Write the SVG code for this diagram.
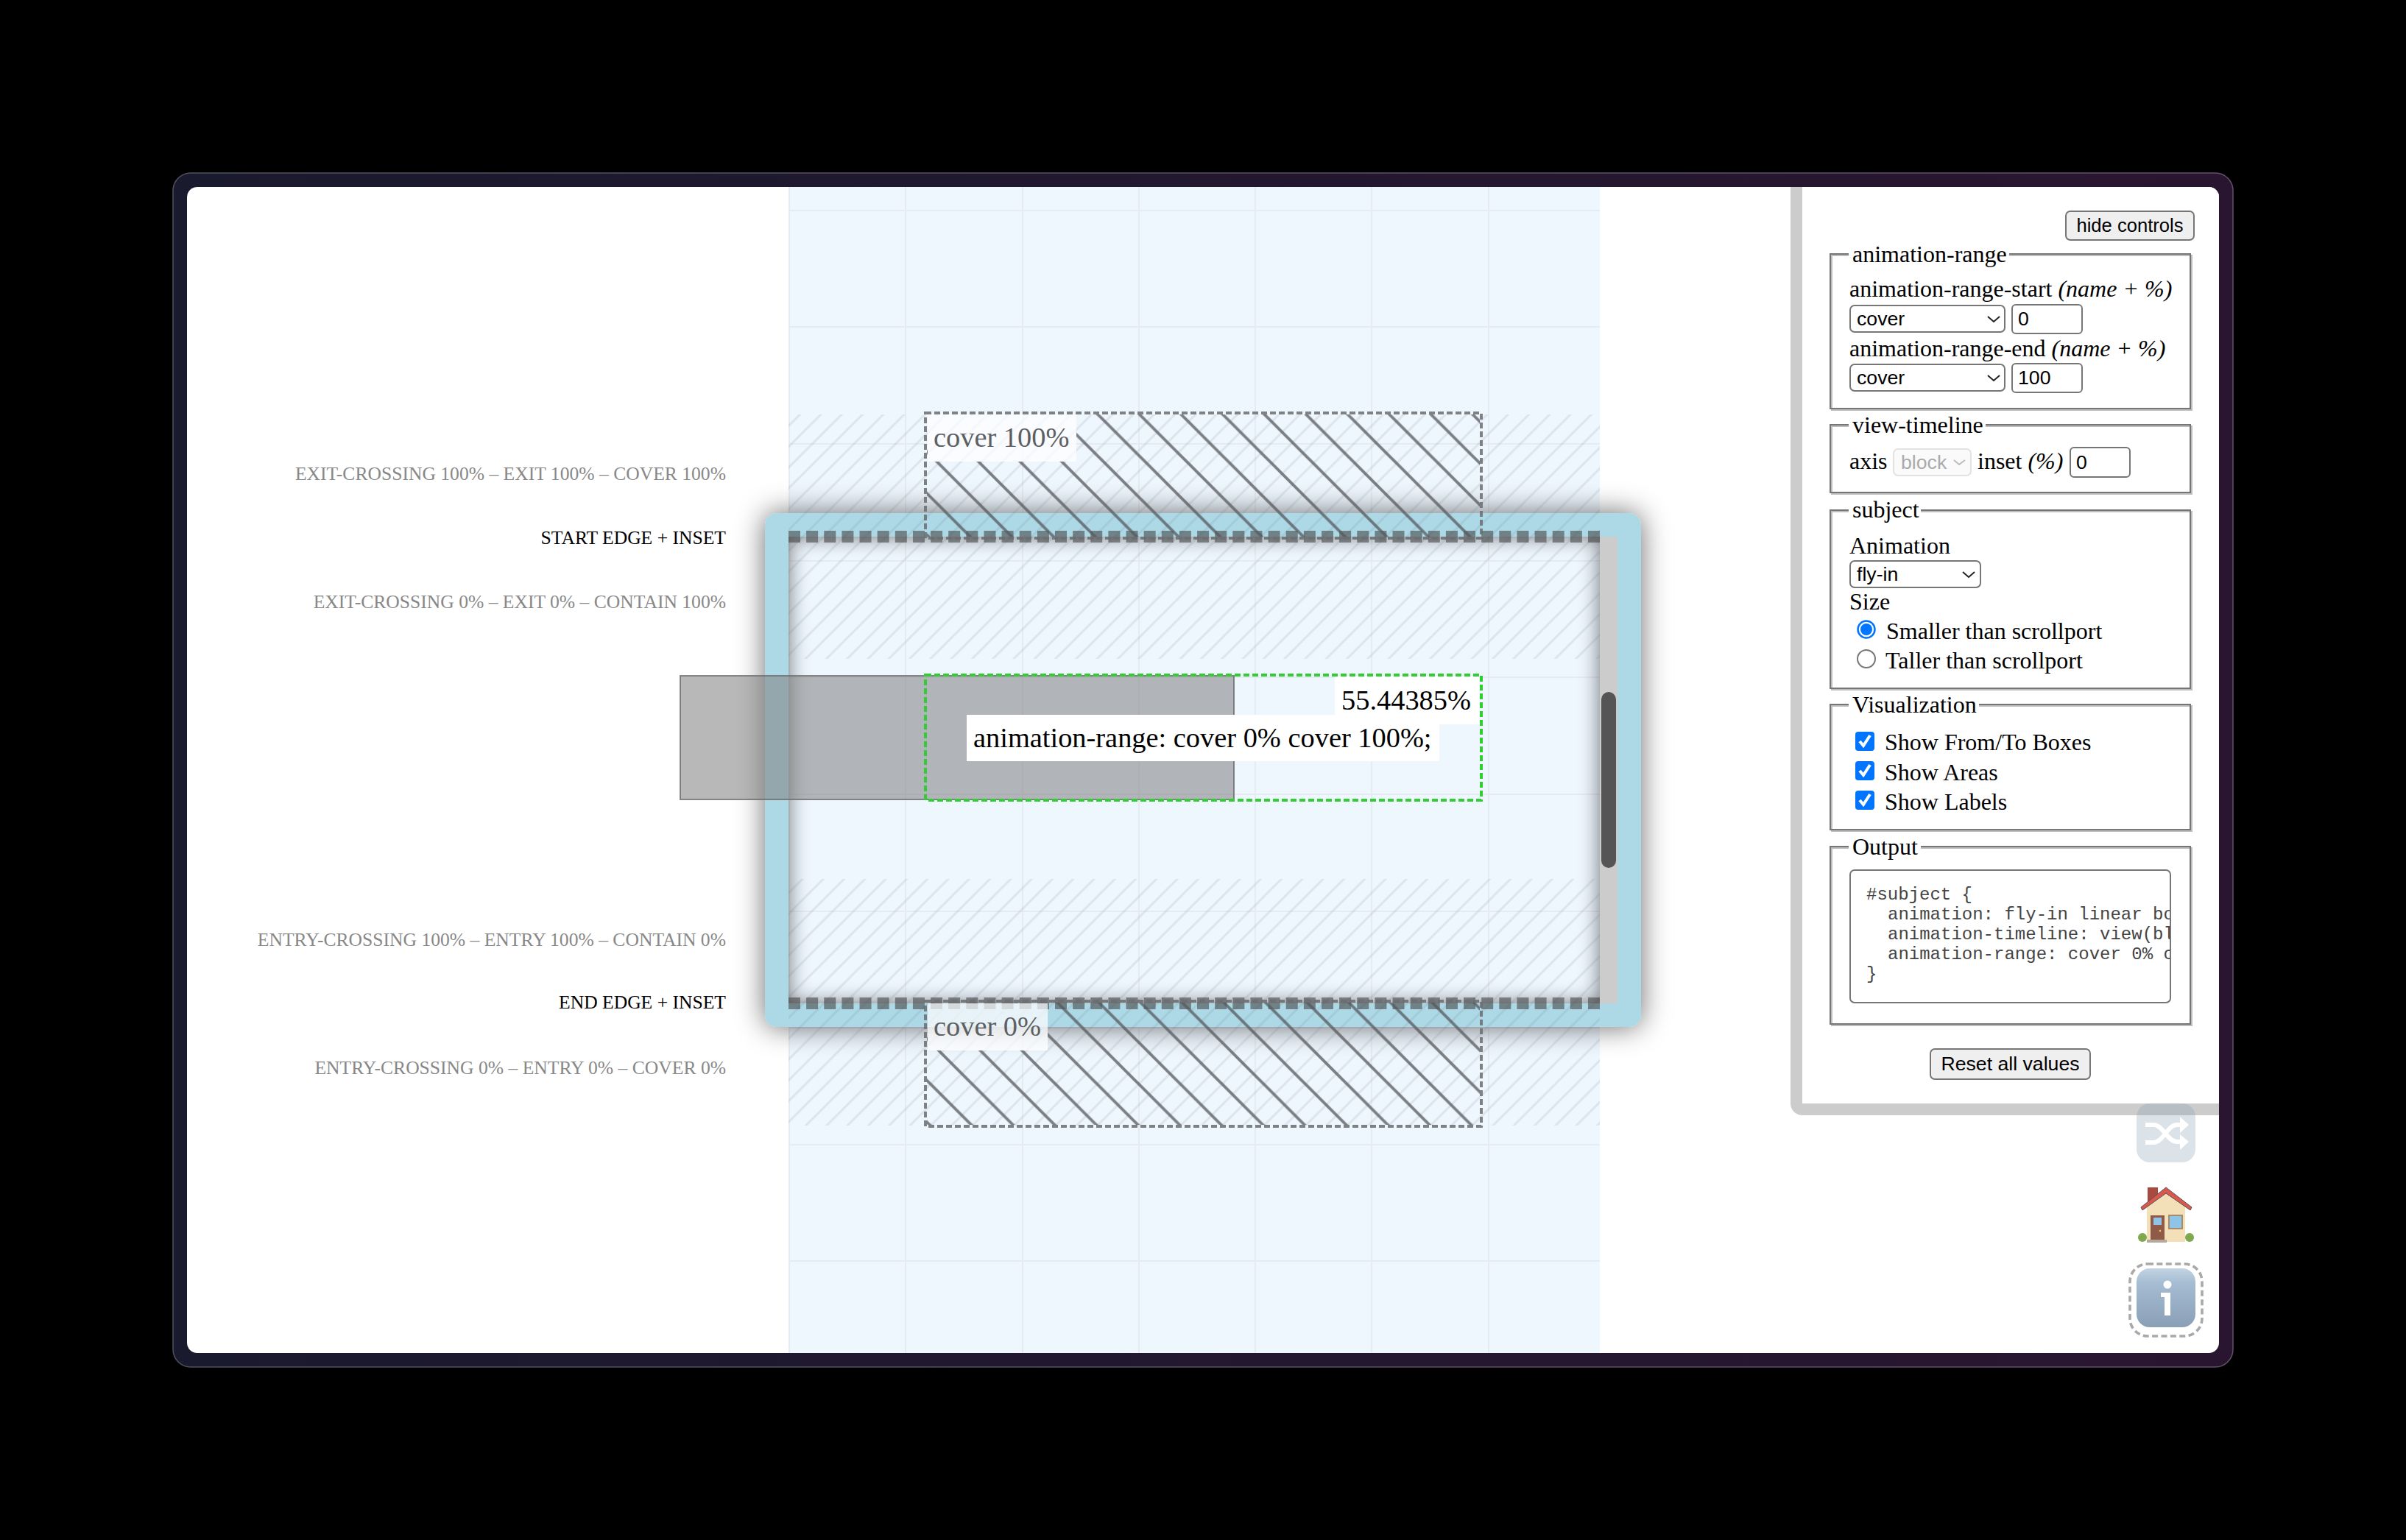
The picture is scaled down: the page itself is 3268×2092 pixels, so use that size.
<svg xmlns="http://www.w3.org/2000/svg" width="3268" height="2092" viewBox="0 0 3268 2092">
<style>
text{font-family:"Liberation Serif","Times New Roman",serif;fill:#000}
.side{font-size:25.6px;text-anchor:end;fill:#888}
.sideb{font-size:25.6px;text-anchor:end;fill:#000}
.big{font-size:38.4px}
.cov{font-size:38.4px;fill:#5c5f63}
.p{font-size:32px}
.ui{font-family:"Liberation Sans",Arial,sans-serif;font-size:26.67px}
.mono{font-family:"Liberation Mono","Courier New",monospace;font-size:24px;fill:#444}
.fd{fill:none;stroke:#767676;stroke-width:2}
.fl{fill:none;stroke:#bdbdbd;stroke-width:2}
.btn{fill:#efefef;stroke:#767676;stroke-width:2}
.ctl{fill:#fff;stroke:#767676;stroke-width:2}
.chev{fill:none;stroke:#222;stroke-width:2}
.grid{stroke:#e5ebf2;stroke-width:2;fill:none}
.strip{fill:none;stroke:#444;stroke-opacity:.58;stroke-width:16;stroke-dasharray:16 8.133}
.box{fill:none;stroke:#6b6d70;stroke-opacity:.85;stroke-width:4;stroke-dasharray:8 4}
.cb{fill:#0075ff}
.tick{fill:none;stroke:#fff;stroke-width:4}
.lab{fill:#fff;fill-opacity:.7}
</style>
<defs>
<linearGradient id="frameG" x1="0" x2="1" y1="0" y2="0"><stop offset="0" stop-color="#1a1a2e"/><stop offset="1" stop-color="#2a1530"/></linearGradient>
<linearGradient id="frameE" x1="0" x2="1" y1="0" y2="0"><stop offset="0" stop-color="#50505e"/><stop offset="1" stop-color="#625068"/></linearGradient>
<linearGradient id="iconG" x1="0" x2="0" y1="0" y2="1"><stop offset="0" stop-color="#c3d4e4"/><stop offset=".25" stop-color="#a5bcd2"/><stop offset="1" stop-color="#8a9fb5"/></linearGradient>
<pattern id="hA" patternUnits="userSpaceOnUse" width="28.284" height="28.284" patternTransform="translate(9.2 0)"><path d="M-2 2L2 -2M0 28.284L28.284 0M26.284 30.284L30.284 26.284" stroke="#5f6b78" stroke-opacity=".12" stroke-width="3" fill="none"/></pattern>
<pattern id="hB" patternUnits="userSpaceOnUse" width="28.284" height="28.284" patternTransform="translate(21.4 0)"><path d="M-2 2L2 -2M0 28.284L28.284 0M26.284 30.284L30.284 26.284" stroke="#5f6b78" stroke-opacity=".12" stroke-width="3" fill="none"/></pattern>
<pattern id="dA" patternUnits="userSpaceOnUse" width="56.569" height="56.569" patternTransform="translate(23.1 0)"><path d="M-3 -3L59.6 59.6M-3 53.6L3 59.6M53.6 -3L59.6 3" stroke="#55585c" stroke-opacity=".75" stroke-width="4" fill="none"/></pattern>
<pattern id="dB" patternUnits="userSpaceOnUse" width="56.569" height="56.569" patternTransform="translate(17.6 0)"><path d="M-3 -3L59.6 59.6M-3 53.6L3 59.6M53.6 -3L59.6 3" stroke="#55585c" stroke-opacity=".75" stroke-width="4" fill="none"/></pattern>
<filter id="b14" filterUnits="userSpaceOnUse" x="800" y="400" width="1700" height="1300"><feGaussianBlur stdDeviation="19"/></filter>
<filter id="b9" filterUnits="userSpaceOnUse" x="800" y="400" width="1700" height="1300"><feGaussianBlur stdDeviation="14"/></filter>
<clipPath id="outside"><path clip-rule="evenodd" d="M254 254H3014V1838H254ZM1055 697H2213A16 16 0 0 1 2229 713V1379A16 16 0 0 1 2213 1395H1055A16 16 0 0 1 1039 1379V713A16 16 0 0 1 1055 697Z"/></clipPath>
<clipPath id="inner"><rect x="1071" y="729" width="1102" height="634"/></clipPath>
<clipPath id="ca"><path clip-rule="evenodd" d="M1259 563H2010V729H1259ZM1260 563H1462V627H1260Z"/></clipPath>
<clipPath id="cb"><path clip-rule="evenodd" d="M1259 1362H2010V1528H1259ZM1260 1363H1423V1427H1260Z"/></clipPath>
<clipPath id="win"><rect x="254" y="254" width="2760" height="1584" rx="14"/></clipPath>
<clipPath id="ta"><rect x="2513" y="1182" width="434" height="180"/></clipPath>
</defs>
<rect width="3268" height="2092" fill="#000"/>
<g id="window">
<rect x="235" y="235" width="2798" height="1622" rx="24" fill="url(#frameG)" stroke="url(#frameE)" stroke-width="1.5"/>
<rect x="254" y="254" width="2760" height="1584" rx="14" fill="#fff"/>
</g>
<g id="scroller" clip-path="url(#win)">
<rect x="1071" y="254" width="1102" height="1584" fill="#eef6fe"/>
<path class="grid" d="M1072 254V1838M1230 254V1838M1389 254V1838M1547 254V1838M1705 254V1838M1863 254V1838M2022 254V1838M1071 286H2173M1071 444H2173M1071 603H2173M1071 762H2173M1071 920H2173M1071 1079H2173M1071 1238H2173M1071 1396H2173M1071 1555H2173M1071 1713H2173"/>
<g clip-path="url(#outside)"><rect x="1039" y="697" width="1190" height="698" rx="16" fill="#000" fill-opacity=".58" filter="url(#b14)"/></g>
<g id="viewport-frame">
<path fill="#add8e6" fill-rule="evenodd" d="M1055 697H2213A16 16 0 0 1 2229 713V1379A16 16 0 0 1 2213 1395H1055A16 16 0 0 1 1039 1379V713A16 16 0 0 1 1055 697ZM1071 729V1363H2197V729Z"/>
<rect x="2173" y="729" width="24" height="634" fill="#cccccc"/>
<g clip-path="url(#inner)"><path fill="#000" fill-opacity=".55" fill-rule="evenodd" filter="url(#b9)" d="M871 529H2373V1563H871ZM1071 729V1363H2173V729Z"/></g>
<rect x="2175" y="940" width="20" height="239" rx="10" fill="#555"/>
</g>
<g id="areas">
<rect x="1071" y="563" width="1102" height="332" fill="url(#hA)"/>
<rect x="1071" y="1194" width="1102" height="335" fill="url(#hB)"/>
</g>
<g id="edges">
<path class="strip" d="M1071 729H2173"/>
<path class="strip" d="M1071 1363H2173"/>
</g>
</g>
<g id="subject">
<rect x="924" y="918" width="752" height="168" fill="#808080" fill-opacity=".56" stroke="#6c6c6c" stroke-opacity=".8" stroke-width="2"/>
</g>
<g id="box-cover-100">
<rect x="1257" y="561" width="755" height="170" fill="url(#dA)" clip-path="url(#ca)" stroke="none"/>
<rect class="box" x="1257" y="561" width="755" height="170"/>
<rect class="lab" x="1260" y="563" width="202" height="64"/>
<text class="cov" x="1268" y="607">cover 100%</text>
</g>
<g id="box-cover-0">
<rect x="1257" y="1360" width="755" height="170" fill="url(#dB)" clip-path="url(#cb)" stroke="none"/>
<rect class="box" x="1257" y="1360" width="755" height="170"/>
<rect class="lab" x="1260" y="1363" width="163" height="64"/>
<text class="cov" x="1268" y="1407">cover 0%</text>
</g>
<g id="box-active">
<rect x="1813" y="919" width="196" height="65" fill="#fff"/>
<rect x="1313" y="971" width="642" height="63" fill="#fff"/>
<rect x="1257" y="917" width="755" height="170" fill="none" stroke="#32cd32" stroke-width="4" stroke-dasharray="8 4"/>
<text class="big" x="1998" y="964" text-anchor="end">55.44385%</text>
<text class="big" x="1322" y="1015">animation-range: cover 0% cover 100%;</text>
</g>
<g id="side-labels">
<text class="side" x="986" y="652">EXIT-CROSSING 100% – EXIT 100% – COVER 100%</text>
<text class="sideb" x="986" y="739">START EDGE + INSET</text>
<text class="side" x="986" y="826">EXIT-CROSSING 0% – EXIT 0% – CONTAIN 100%</text>
<text class="side" x="986" y="1285">ENTRY-CROSSING 100% – ENTRY 100% – CONTAIN 0%</text>
<text class="sideb" x="986" y="1370">END EDGE + INSET</text>
<text class="side" x="986" y="1459">ENTRY-CROSSING 0% – ENTRY 0% – COVER 0%</text>
</g>
<g id="panel" clip-path="url(#win)">
<path d="M2432 254H3014V1515H2448A16 16 0 0 1 2432 1499Z" fill="#cccccc"/>
<rect x="2448" y="254" width="566" height="1245" fill="#fff"/>
<g id="hide-controls"><rect class="btn" x="2806" y="287" width="174" height="39" rx="6"/><text class="ui" x="2893" y="315" text-anchor="middle" style="font-size:25.6px">hide controls</text></g>
<g id="fs-range">
<path class="fl" d="M2511 347H2488V557H2977V347H2729"/>
<path class="fd" d="M2511 345H2486V555H2975V345H2729"/>
<text class="p" x="2516" y="356">animation-range</text>
<text class="p" x="2512" y="403">animation-range-start <tspan font-style="italic">(name + %)</tspan></text>
<rect class="ctl" x="2513" y="415" width="210" height="36" rx="6"/>
<text class="ui" x="2522" y="442">cover</text>
<path class="chev" d="M2700 430L2708 437L2716 430"/>
<rect class="ctl" x="2733" y="414" width="95" height="39" rx="5"/>
<text class="ui" x="2741" y="442">0</text>
<text class="p" x="2512" y="484">animation-range-end <tspan font-style="italic">(name + %)</tspan></text>
<rect class="ctl" x="2513" y="495" width="210" height="36" rx="6"/>
<text class="ui" x="2522" y="522">cover</text>
<path class="chev" d="M2700 510L2708 517L2716 510"/>
<rect class="ctl" x="2733" y="494" width="95" height="39" rx="5"/>
<text class="ui" x="2741" y="522">100</text>
</g>
<g id="fs-view">
<path class="fl" d="M2511 579H2488V671H2977V579H2697"/>
<path class="fd" d="M2511 577H2486V669H2975V577H2697"/>
<text class="p" x="2516" y="588">view-timeline</text>
<text class="p" x="2512" y="637">axis</text>
<rect x="2572" y="610" width="105" height="36" rx="6" fill="#fafafa" stroke="#e2e2e2" stroke-width="2"/>
<text class="ui" x="2582" y="637" style="fill:#aaa">block</text>
<path class="chev" style="stroke:#bbb" d="M2654 625L2661 631L2669 625"/>
<text class="p" x="2686" y="637">inset <tspan font-style="italic">(%)</tspan></text>
<rect class="ctl" x="2812" y="608" width="81" height="40" rx="5"/>
<text class="ui" x="2820" y="637">0</text>
</g>
<g id="fs-subject">
<path class="fl" d="M2511 695H2488V937H2977V695H2609"/>
<path class="fd" d="M2511 693H2486V935H2975V693H2609"/>
<text class="p" x="2516" y="703">subject</text>
<text class="p" x="2512" y="752">Animation</text>
<rect class="ctl" x="2513" y="762" width="177" height="36" rx="6"/>
<text class="ui" x="2522" y="789">fly-in</text>
<path class="chev" d="M2666 777L2674 784L2682 777"/>
<text class="p" x="2512" y="828">Size</text>
<circle cx="2535" cy="855" r="11.5" fill="#fff" stroke="#0075ff" stroke-width="2.5"/>
<circle cx="2535" cy="855" r="8" fill="#0075ff"/>
<text class="p" x="2562" y="868">Smaller than scrollport</text>
<circle cx="2535" cy="895" r="12" fill="#fff" stroke="#767676" stroke-width="2"/>
<text class="p" x="2561" y="908">Taller than scrollport</text>
</g>
<g id="fs-vis">
<path class="fl" d="M2511 959H2488V1129H2977V959H2688"/>
<path class="fd" d="M2511 957H2486V1127H2975V957H2688"/>
<text class="p" x="2516" y="968">Visualization</text>
<rect class="cb" x="2520" y="994" width="26" height="26" rx="4"/><path class="tick" d="M2526 1007L2531 1013L2540 999"/>
<text class="p" x="2560" y="1019">Show From/To Boxes</text>
<rect class="cb" x="2520" y="1034" width="26" height="26" rx="4"/><path class="tick" d="M2526 1047L2531 1053L2540 1039"/>
<text class="p" x="2560" y="1060">Show Areas</text>
<rect class="cb" x="2520" y="1074" width="26" height="26" rx="4"/><path class="tick" d="M2526 1087L2531 1093L2540 1079"/>
<text class="p" x="2560" y="1100">Show Labels</text>
</g>
<g id="fs-output">
<path class="fl" d="M2511 1152H2488V1393H2977V1152H2609"/>
<path class="fd" d="M2511 1150H2486V1391H2975V1150H2609"/>
<text class="p" x="2516" y="1161">Output</text>
<rect class="ctl" x="2513" y="1182" width="435" height="180" rx="6"/>
<g clip-path="url(#ta)">
<text class="mono" x="2535" y="1222">#subject {</text>
<text class="mono" x="2564" y="1249">animation: fly-in linear bo</text>
<text class="mono" x="2564" y="1276">animation-timeline: view(bl</text>
<text class="mono" x="2564" y="1303">animation-range: cover 0% c</text>
<text class="mono" x="2535" y="1330">}</text>
</g>
</g>
<g id="reset"><rect class="btn" x="2622" y="1425" width="217" height="41" rx="6"/><text class="ui" x="2730.5" y="1454" text-anchor="middle">Reset all values</text></g>
</g>
<g id="icon-shuffle" opacity=".3">
<rect x="2902" y="1499" width="80" height="80" rx="18" fill="#8aa0b5"/>
<path d="M2914 1528H2925C2938 1528 2944 1551 2957 1551H2963M2914 1552H2925C2938 1552 2944 1528 2957 1528H2963" fill="none" stroke="#fff" stroke-width="6"/>
<path d="M2961 1517L2973 1528L2961 1539ZM2961 1541L2973 1551L2961 1562Z" fill="#fff"/>
</g>
<g id="icon-home">
<rect x="2917" y="1613" width="14" height="22" fill="#a84a40"/>
<path d="M2916 1636L2942 1618L2968 1636V1687H2916Z" fill="#f3dfb8"/>
<path d="M2908 1640L2942 1613L2977 1640L2975 1644L2942 1621L2910 1644Z" fill="#d9574c" stroke="#555" stroke-width="1"/>
<circle cx="2910" cy="1681" r="6" fill="#7fa84f"/><circle cx="2974" cy="1681" r="6" fill="#7fa84f"/>
<rect x="2921" y="1651" width="19" height="33" fill="#8f5a48"/>
<rect x="2925" y="1654" width="11" height="10" fill="#8ec4e8"/>
<circle cx="2934" cy="1672" r="1.3" fill="#f2c14e"/>
<rect x="2945" y="1650" width="20" height="20" fill="#a98a6d"/>
<rect x="2947" y="1652" width="16" height="16" fill="#8ec4e8"/>
<rect x="2916" y="1684" width="27" height="4" fill="#b5a999"/>
</g>
<g id="icon-info">
<rect x="2893" y="1717" width="98" height="98" rx="24" fill="none" stroke="#a9a9a9" stroke-width="3.6" stroke-dasharray="8 4.4"/>
<rect x="2902" y="1723" width="80" height="80" rx="18" fill="url(#iconG)"/>
<circle cx="2944" cy="1745" r="5.5" fill="#fff"/>
<path d="M2935 1756H2948V1787H2940V1762H2935Z" fill="#fff"/>
</g>
</svg>
